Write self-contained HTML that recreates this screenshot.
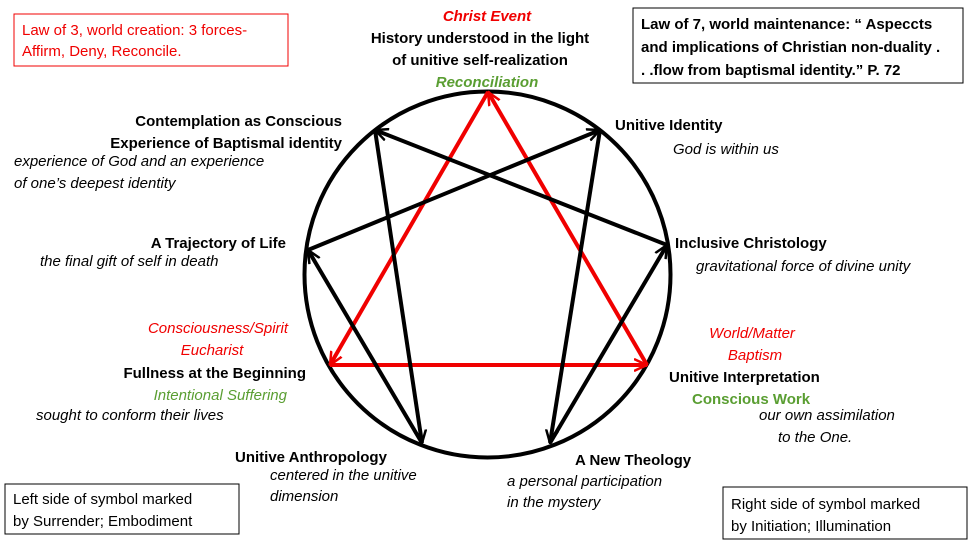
<!DOCTYPE html>
<html><head><meta charset="utf-8"><style>
html,body{margin:0;padding:0;background:#fff}
svg{display:block}
text{font-family:"Liberation Sans",sans-serif;font-size:15px}
.b{font-weight:bold;fill:#000}
.i{font-style:italic;fill:#000}
.r{fill:#f00000}
.g{fill:#5a9e32}
</style></head><body>
<svg width="975" height="549" viewBox="0 0 975 549">
<defs>
<marker id="ab" markerWidth="14" markerHeight="14" refX="13" refY="7" orient="auto" markerUnits="userSpaceOnUse"><path d="M0,1 L13,7 L0,13" fill="none" stroke="#000" stroke-width="2.5"/></marker>
<marker id="ar" markerWidth="14" markerHeight="14" refX="13" refY="7" orient="auto" markerUnits="userSpaceOnUse"><path d="M0,1 L13,7 L0,13" fill="none" stroke="#f00000" stroke-width="2.5"/></marker>
</defs>
<circle cx="487.5" cy="274.5" r="183" fill="none" stroke="#000" stroke-width="4"/>
<g stroke="#f00000" stroke-width="4" fill="none" marker-end="url(#ar)">
<line x1="488" y1="92" x2="330" y2="365"/>
<line x1="330" y1="365" x2="647" y2="365"/>
<line x1="647" y1="365" x2="488" y2="92"/>
</g>
<g stroke="#000" stroke-width="4" fill="none" marker-end="url(#ab)">
<line x1="600" y1="130" x2="550" y2="443"/>
<line x1="550" y1="443" x2="667" y2="245"/>
<line x1="667" y1="245" x2="375" y2="130"/>
<line x1="375" y1="130" x2="422" y2="443"/>
<line x1="422" y1="443" x2="308" y2="250"/>
<line x1="308" y1="250" x2="600" y2="130"/>
</g>
<rect x="14" y="14" width="274" height="52" fill="none" stroke="#f00000" stroke-width="1"/>
<text x="22" y="35" class="r">Law of 3, world creation:  3 forces-</text>
<text x="22" y="56" class="r">Affirm, Deny, Reconcile.</text>
<rect x="633" y="8" width="330" height="75" fill="none" stroke="#000" stroke-width="1"/>
<text x="641" y="29" class="b">Law of 7, world maintenance: “ Aspeccts</text>
<text x="641" y="52" class="b">and implications of Christian non-duality .</text>
<text x="641" y="75" class="b">. .flow from baptismal identity.”  P. 72</text>
<text x="487" y="21" class="b i" text-anchor="middle" style="fill:#f00000">Christ Event</text>
<text x="480" y="43" class="b" text-anchor="middle">History understood in the light</text>
<text x="480" y="65" class="b" text-anchor="middle">of unitive self-realization</text>
<text x="487" y="87" class="b i" text-anchor="middle" style="fill:#5a9e32">Reconciliation</text>
<text x="342" y="126" class="b" text-anchor="end">Contemplation as Conscious</text>
<text x="342" y="148" class="b" text-anchor="end">Experience of Baptismal identity</text>
<text x="14" y="166" class="i">experience of God and an experience</text>
<text x="14" y="188" class="i">of one’s deepest identity</text>
<text x="615" y="130" class="b">Unitive Identity</text>
<text x="673" y="154" class="i">God is within us</text>
<text x="286" y="248" class="b" text-anchor="end">A Trajectory of Life</text>
<text x="40" y="266" class="i">the final gift of self in death</text>
<text x="675" y="248" class="b">Inclusive Christology</text>
<text x="696" y="271" class="i">gravitational force of divine unity</text>
<text x="218" y="333" class="i" text-anchor="middle" style="fill:#f00000">Consciousness/Spirit</text>
<text x="212" y="355" class="i" text-anchor="middle" style="fill:#f00000">Eucharist</text>
<text x="306" y="378" class="b" text-anchor="end">Fullness at the Beginning</text>
<text x="287" y="400" class="i" text-anchor="end" style="fill:#5a9e32">Intentional Suffering</text>
<text x="36" y="420" class="i">sought to conform their lives</text>
<text x="752" y="338" class="i" text-anchor="middle" style="fill:#f00000">World/Matter</text>
<text x="755" y="360" class="i" text-anchor="middle" style="fill:#f00000">Baptism</text>
<text x="669" y="382" class="b">Unitive Interpretation</text>
<text x="692" y="404" class="b" style="fill:#5a9e32">Conscious Work</text>
<text x="759" y="420" class="i">our own assimilation</text>
<text x="778" y="442" class="i">to the One.</text>
<text x="235" y="462" class="b">Unitive Anthropology</text>
<text x="270" y="480" class="i">centered in the unitive</text>
<text x="270" y="501" class="i">dimension</text>
<text x="575" y="465" class="b">A New Theology</text>
<text x="507" y="486" class="i">a personal participation</text>
<text x="507" y="507" class="i">in the mystery</text>
<rect x="5" y="484" width="234" height="50" fill="none" stroke="#000" stroke-width="1"/>
<text x="13" y="504" style="fill:#000">Left side of symbol marked</text>
<text x="13" y="526" style="fill:#000">by Surrender; Embodiment</text>
<rect x="723" y="487" width="244" height="52" fill="none" stroke="#000" stroke-width="1"/>
<text x="731" y="509" style="fill:#000">Right side of symbol marked</text>
<text x="731" y="531" style="fill:#000">by Initiation; Illumination</text>
</svg>
</body></html>
